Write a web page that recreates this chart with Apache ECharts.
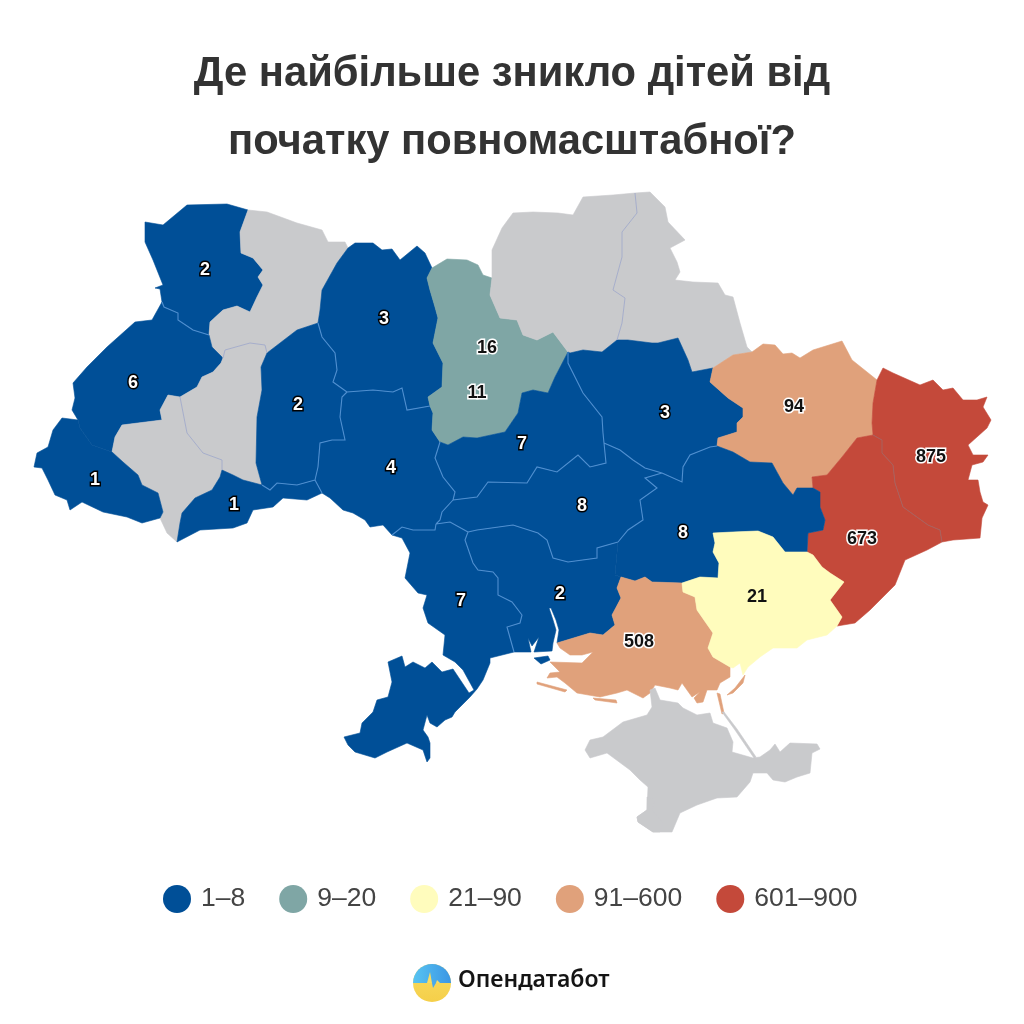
<!DOCTYPE html>
<html><head><meta charset="utf-8">
<style>html,body{margin:0;padding:0;background:#fff}#c{width:1024px;height:1024px}</style>
<script src="https://cdn.jsdelivr.net/npm/echarts@6/dist/echarts.min.js"></script>
</head><body><div id="c"></div>
<script>
// ---- chart values ----
const titleLines = ['Де найбільше зникло дітей від', 'початку повномасштабної?'];
const regionNames  = ['Волинська','Рівненська','Львівська','Тернопільська','Івано-Франківська','Закарпатська','Чернівецька','Хмельницька','Житомирська','Вінницька','Київська','Київ','Чернігівська','Сумська','Полтавська','Харківська','Луганська','Донецька','Дніпропетровська','Кіровоградська','Черкаська','Одеська','Миколаївська','Херсонська','Запорізька','Крим','Севастополь'];
const regionValues = [2,null,6,null,null,1,1,2,3,4,11,16,null,null,3,94,875,673,8,8,7,7,2,508,21,null,null];
const legendLabels = ['1–8','9–20','21–90','91–600','601–900'];
const legendMin    = [1,9,21,91,601];
const legendMax    = [8,20,90,600,900];
const legendColors = ['#004f97','#7fa6a5','#fffcbd','#e0a17b','#c4493a'];
const noDataColor  = '#c9cacc';

// ---- map geometry: shared boundary arcs ----
const arcs = {
A:[[162,302],[164,307],[178,313],[178,320],[193,330],[209,335]],
B:[[248,210],[240,232],[241,253],[253,258],[263,270],[258,277],[263,285],[257,297],[250,312],[237,306],[223,310],[210,322],[209,335]],
C:[[162,302],[160,289],[155,288],[163,285],[153,260],[145,242],[145,222],[163,225],[187,205],[227,204],[248,210]],
D:[[248,210],[267,212],[297,223],[322,230],[328,242],[345,242],[348,248]],
E:[[348,248],[337,263],[322,290],[320,310],[318,323]],
F:[[318,323],[297,330],[267,353]],
G:[[267,353],[265,345],[250,343],[225,350],[223,358]],
H:[[223,358],[212,347],[209,335]],
I:[[223,358],[221,363],[213,372],[202,377],[197,387],[180,397]],
J:[[180,397],[168,395],[160,410],[162,420],[122,425],[115,437],[112,452]],
K:[[112,452],[92,445],[80,428],[78,420]],
L:[[78,420],[72,410],[75,398],[73,383],[87,367],[107,347],[135,322],[152,320],[162,302]],
M:[[267,353],[261,367],[262,390],[257,417],[256,463],[262,485]],
N:[[262,485],[243,480],[233,475],[222,470]],
O:[[222,470],[222,460],[203,453],[187,433],[180,397]],
P:[[112,452],[123,462],[138,475],[142,485],[158,493],[163,512],[160,518]],
Q:[[160,518],[167,533],[177,542]],
R:[[177,542],[180,523],[182,513],[195,498],[212,490],[220,477],[222,470]],
S:[[160,518],[142,523],[127,517],[103,512],[82,502],[70,510],[67,500],[55,495],[48,480],[42,468],[34,467],[37,453],[48,447],[53,430],[62,418],[78,420]],
T:[[262,485],[270,490],[277,483],[297,485],[315,480]],
U:[[315,480],[322,493]],
V:[[322,493],[307,500],[283,498],[273,507],[253,510],[247,523],[233,528],[200,530],[177,542]],
W:[[318,323],[322,337],[335,353],[337,370],[333,382],[347,392]],
X:[[347,392],[342,397],[340,417],[345,440],[332,440],[320,443],[318,467],[315,480]],
Y:[[348,248],[355,243],[373,243],[382,250],[392,249],[400,260],[417,246],[425,253],[432,268]],
Z:[[432,268],[427,278],[430,290],[435,307],[438,318],[433,343],[443,363],[442,387],[428,397],[430,406]],
AA:[[430,406],[407,410],[402,388],[393,392],[373,390],[347,392]],
AB:[[430,406],[433,413],[432,430],[440,442]],
AC:[[440,442],[435,458],[443,477],[455,492],[453,500]],
AD:[[453,500],[442,512],[440,520],[436,524]],
AE:[[436,524],[435,530],[413,530],[402,527],[392,535]],
AF:[[392,535],[383,525],[370,527],[365,520],[353,513],[343,510],[330,498],[322,493]],
AG:[[432,268],[447,259],[467,260],[478,265],[483,275],[492,278]],
AH:[[492,278],[490,295],[500,318],[517,320],[523,335],[537,340],[553,332],[568,352]],
AI:[[568,352],[555,377],[548,393],[533,390],[522,393],[518,413],[505,432],[477,438],[463,437],[448,445],[440,442]],
AJ:[[492,278],[492,250],[502,228],[513,213],[533,212],[558,213],[573,215],[583,197],[613,195],[635,193]],
AK:[[635,193],[637,213],[622,232],[622,257],[613,290],[625,298],[622,323],[617,340]],
AL:[[617,340],[602,352],[583,350],[570,353],[568,352]],
AM:[[635,193],[650,192],[665,207],[668,222],[685,240],[670,248],[677,262],[680,272],[675,280],[693,282],[718,283],[725,295],[733,297],[740,323],[747,347],[752,352]],
AN:[[752,352],[733,355],[713,368]],
AO:[[713,368],[692,372],[688,360],[678,338],[658,343],[652,343],[628,340],[617,340]],
AP:[[713,368],[710,382],[728,398],[743,408],[743,417],[737,423],[737,432],[718,438],[717,446]],
AQ:[[717,446],[710,447],[690,455],[683,467],[682,482],[662,473]],
AR:[[662,473],[645,468],[633,460],[620,450],[604,443]],
AS:[[604,443],[603,433],[602,417],[583,393],[568,363],[568,352]],
AT:[[752,352],[763,344],[775,345],[783,354],[792,353],[800,358],[813,350],[842,341],[852,360],[877,380]],
AU:[[877,380],[873,403],[872,423],[873,435]],
AV:[[873,435],[857,438],[842,457],[827,475],[812,477],[813,488]],
AW:[[813,488],[797,488],[793,495],[783,483],[772,463],[750,462],[733,452],[717,446]],
AX:[[877,380],[883,368],[893,373],[920,385],[933,380],[943,390],[953,388],[963,400],[977,400],[987,397],[983,407],[991,420],[987,428],[968,445],[973,455],[988,455],[983,462],[972,465],[968,480],[978,480],[980,492],[983,502],[988,505],[982,518],[980,538],[953,540],[942,542]],
AY:[[942,542],[940,530],[928,525],[903,507],[895,483],[893,465],[882,453],[882,440],[873,435]],
AZ:[[942,542],[927,550],[905,560],[895,585],[870,610],[855,623],[837,626]],
BA:[[837,626],[842,617],[830,600],[844,582],[830,573],[822,567],[813,555],[807,552]],
BB:[[807,552],[808,533],[823,530],[825,520],[820,507],[820,492],[813,488]],
BC:[[807,552],[785,552],[773,537],[758,531],[733,532],[713,533],[715,543],[713,552],[719,563],[718,578],[700,577],[682,583]],
BD:[[682,583],[652,582],[645,577],[635,581],[621,577]],
BE:[[621,577],[615,575],[618,542]],
BF:[[618,542],[628,530],[643,520],[640,500],[657,488],[645,478],[662,473]],
BG:[[453,500],[477,497],[488,482],[527,483],[537,467],[557,472],[578,455],[590,467],[606,463],[604,443]],
BH:[[618,542],[597,548],[597,558],[568,562],[553,558],[547,540],[538,533],[513,525],[477,530],[468,532]],
BI:[[468,532],[450,522],[436,524]],
BJ:[[468,532],[465,540],[473,563],[478,570],[493,572],[498,578],[498,595],[512,602],[522,615],[520,623],[507,627],[514,652]],
BK:[[514,652],[490,658],[490,663],[483,680],[477,689],[470,697],[455,712],[452,717],[445,720],[437,727],[430,723],[427,715],[423,730],[428,737],[430,743],[430,758],[427,762],[423,750],[407,743],[387,752],[375,758],[355,752],[348,745],[344,737],[360,733],[362,723],[373,712],[377,700],[388,697],[392,682],[388,662],[402,656],[405,667],[413,662],[425,668],[432,662],[442,672],[453,669],[469,693],[474,690],[463,670],[455,662],[443,655],[445,635],[428,623],[423,608],[427,595],[418,593],[405,578],[410,553],[402,538],[392,535]],
BL:[[621,577],[617,588],[621,598],[612,615],[615,625],[603,635],[590,633],[557,643]],
BM:[[557,643],[559,630],[556,620],[551,608],[549,608],[553,620],[556,630],[553,643],[552,651],[534,652],[539,637],[532,646],[528,638],[531,652],[514,652]],
BN:[[682,583],[683,592],[695,597],[697,610],[713,633],[708,648],[713,657],[730,667]],
BO:[[730,667],[730,677],[720,683],[717,690],[707,690],[703,702],[697,703],[694,698],[700,692],[692,697],[682,683],[678,690],[670,688],[655,685],[650,693],[643,698],[627,690],[617,693],[600,697],[577,693],[565,683],[557,677],[547,678],[550,673],[560,672],[550,662],[582,663],[593,652],[582,655],[570,655],[560,648],[557,643]],
BP:[[837,626],[827,635],[807,640],[797,648],[773,648],[760,657],[748,667],[743,675],[740,663],[733,668],[730,667]]
};
// each region: rings of arc names ('-' = walk the arc backwards), or raw extra rings
const regionArcs = {
'Волинська':['C','B','-A'],
'Рівненська':['D','E','F','G','H','-B'],
'Львівська':['A','-H','I','J','K','L'],
'Тернопільська':['-G','M','N','O','-I'],
'Івано-Франківська':['J','P','Q','R','O'],
'Закарпатська':['-K','P','S'],
'Чернівецька':['-N','T','U','V','R'],
'Хмельницька':['-F','W','X','-T','-M'],
'Житомирська':['-E','Y','Z','AA','-W'],
'Вінницька':['-AA','AB','AC','AD','AE','AF','-U','-X'],
'Київська':['-Z','AG','AH','AI','-AB'],
'Чернігівська':['AJ','AK','AL','-AH'],
'Сумська':['AM','AN','AO','-AK'],
'Полтавська':['-AO','AP','AQ','AR','AS','-AL'],
'Харківська':['-AN','AT','AU','AV','AW','-AP'],
'Луганська':['AX','AY','-AU'],
'Донецька':['-AV','-AY','AZ','BA','BB'],
'Дніпропетровська':['-AW','-BB','BC','BD','BE','BF','-AQ'],
'Кіровоградська':['-AD','BG','-AR','-BF','BH','BI'],
'Черкаська':['-AI','-AS','-BG','-AC'],
'Одеська':['-AE','-BI','BJ','BK'],
'Миколаївська':['-BH','-BE','BL','BM','-BJ'],
'Херсонська':['-BL','-BD','BN','BO'],
'Запорізька':['-BC','-BA','BP','-BN']
};
const rawRings = {
'Київ':[[[478,340],[495,340],[498,356],[480,358]]],
'Крим':[[[650,690],[655,688],[660,700],[678,703],[683,708],[697,715],[710,713],[713,723],[727,728],[733,742],[732,752],[753,758],[760,757],[770,750],[775,744],[780,752],[790,743],[817,744],[820,749],[812,753],[810,773],[797,777],[785,782],[773,780],[767,773],[753,773],[750,782],[737,797],[717,798],[697,805],[680,813],[672,832],[653,832],[638,822],[637,817],[647,810],[648,787],[640,780],[630,770],[607,753],[590,758],[585,750],[590,740],[603,737],[623,722],[647,715],[652,707]],
        [[722,712],[724,712],[737,729],[756,757],[754,758],[735,730]]],
'Севастополь':[[[647,797],[655,800],[652,810],[663,823],[660,832],[653,832],[638,822],[637,817],[647,810]]]
};
const extraRings = {
'Миколаївська':[[[534,658],[548,656],[550,660],[541,664]]],
'Херсонська':[[[537,682],[567,690],[565,692],[537,684]],[[593,698],[616,700],[617,703],[595,700]],[[727,695],[735,688],[745,675],[743,683],[733,693]],[[717,693],[720,694],[724,713],[722,714]]]
};
const innerBlue = ['A','T','U','W','X','AA','AC','AD','AE','AQ','AR','AS','BF','BG','BH','BI','BJ'];
const innerGrey = ['G','O','AK'];
const innerRed  = ['AY'];

function walk(name){ const neg=name[0]==='-'; const a=arcs[neg?name.slice(1):name]; return neg?a.slice().reverse():a; }
function ring(names){ const out=[]; names.forEach(n=>{ walk(n).forEach(p=>{ const l=out[out.length-1]; if(!l||l[0]!==p[0]||l[1]!==p[1]) out.push(p); }); }); const f=out[0],l=out[out.length-1]; if(f[0]!==l[0]||f[1]!==l[1]) out.push(f); return out; }
function closed(r){ return r.concat([r[0]]); }
const labelAnchors = {'Волинська':[205,270],'Львівська':[133,383],'Закарпатська':[95,480],'Чернівецька':[234,505],'Хмельницька':[298,405],'Житомирська':[384,319],'Вінницька':[391,468],'Київська':[477,393],'Київ':[487,348],'Полтавська':[665,413],'Харківська':[794,407],'Луганська':[931,457],'Донецька':[862,539],'Дніпропетровська':[683,533],'Кіровоградська':[582,506],'Черкаська':[522,444],'Одеська':[461,601],'Миколаївська':[560,594],'Херсонська':[639,642],'Запорізька':[757,597]};

const features = regionNames.map(name=>{
  let polys=[];
  if(regionArcs[name]) polys.push([ring(regionArcs[name])]);
  (rawRings[name]||[]).forEach(r=>polys.push([closed(r)]));
  (extraRings[name]||[]).forEach(r=>polys.push([closed(r)]));
  return {type:'Feature',properties:{name,cp:labelAnchors[name]||[0,0]},geometry:{type:'MultiPolygon',coordinates:polys}};
});
const lineFeature=(name,list)=>({type:'Feature',properties:{name,cp:[0,0]},geometry:{type:'MultiLineString',coordinates:list.map(n=>arcs[n])}});
features.push(lineFeature('межі-сині',innerBlue),lineFeature('межі-сірі',innerGrey),lineFeature('межі-червоні',innerRed));
echarts.registerMap('ua',{type:'FeatureCollection',features});

function colorOf(v){ if(v==null) return noDataColor; for(let i=0;i<legendMin.length;i++) if(v>=legendMin[i]&&v<=legendMax[i]) return legendColors[i]; return noDataColor; }
const seriesData = regionNames.map((name,i)=>{
  const v=regionValues[i], c=colorOf(v), blue=c===legendColors[0], yellow=c===legendColors[2];
  return {name,value:v==null?NaN:v,
    itemStyle:{areaColor:c,borderColor:c,borderWidth:0.6},
    label:{show:v!=null,formatter:String(v),color:blue?'#fff':'#111',
      textBorderColor:blue?'#000':(yellow?'transparent':'#fff'),textBorderWidth:yellow?0:3}};
});
seriesData.push(
 {name:'межі-сині',value:NaN,itemStyle:{borderColor:'#4f8fd0',borderWidth:1.1,areaColor:'none'},label:{show:false}},
 {name:'межі-сірі',value:NaN,itemStyle:{borderColor:'#a6aecb',borderWidth:1,areaColor:'none'},label:{show:false}},
 {name:'межі-червоні',value:NaN,itemStyle:{borderColor:'#a8625f',borderWidth:1,areaColor:'none'},label:{show:false}}
);

const chart = echarts.init(document.getElementById('c'),null,{renderer:'canvas',width:1024,height:1024});
chart.setOption({
  animation:false,
  backgroundColor:'#fff',
  title:{text:titleLines.join('\n'),left:'center',top:36,
    textStyle:{fontFamily:'Liberation Sans',fontWeight:'bold',fontSize:41.7,lineHeight:68,color:'#333'}},
  visualMap:{type:'piecewise',orient:'horizontal',left:148,top:870,itemWidth:28,itemHeight:28,itemGap:34,itemSymbol:'circle',textGap:10,
    hoverLink:false,selectedMode:false,seriesIndex:0,
    textStyle:{fontFamily:'Liberation Sans',fontSize:26.5,color:'#444'},
    pieces:legendLabels.map((label,i)=>({min:legendMin[i],max:legendMax[i],label,color:legendColors[i]})),
    outOfRange:{color:noDataColor}},
  series:[{type:'map',map:'ua',roam:false,silent:true,left:0,top:0,width:1024,height:1024,
    projection:{project:p=>[p[0],p[1]],unproject:p=>[p[0],p[1]]},
    boundingCoords:[[0,0],[1024,1024]],
    selectedMode:false,
    itemStyle:{areaColor:noDataColor,borderColor:noDataColor,borderWidth:0.6},
    label:{show:false,fontFamily:'Liberation Sans',fontWeight:'bold',fontSize:18},
    emphasis:{disabled:true},
    data:seriesData}],
  graphic:[
    {type:'circle',shape:{cx:432,cy:983,r:19},style:{fill:new echarts.graphic.LinearGradient(0,0,0,1,[{offset:0,color:'#f8dc63'},{offset:1,color:'#f5cf49'}])}},
    {type:'sector',shape:{cx:432,cy:983,r:19,r0:0,startAngle:Math.PI,endAngle:2*Math.PI},style:{fill:new echarts.graphic.LinearGradient(0,0,1,0,[{offset:0,color:'#58c4f2'},{offset:1,color:'#3b96e4'}])}},
    {type:'polygon',shape:{points:[[427,983],[430,972],[432,983]]},style:{fill:'#f8dc63'}},
    {type:'polygon',shape:{points:[[432,983],[433,988],[436,983]]},style:{fill:'#4aa8ea'}},
    {type:'polygon',shape:{points:[[436,983],[437,980],[440,983]]},style:{fill:'#f8dc63'}},
    {type:'text',left:458,top:969,style:{text:'Опендатабот',font:'600 23px "Noto Sans"',fill:'#141414'}}
  ]
});
</script></body></html>
